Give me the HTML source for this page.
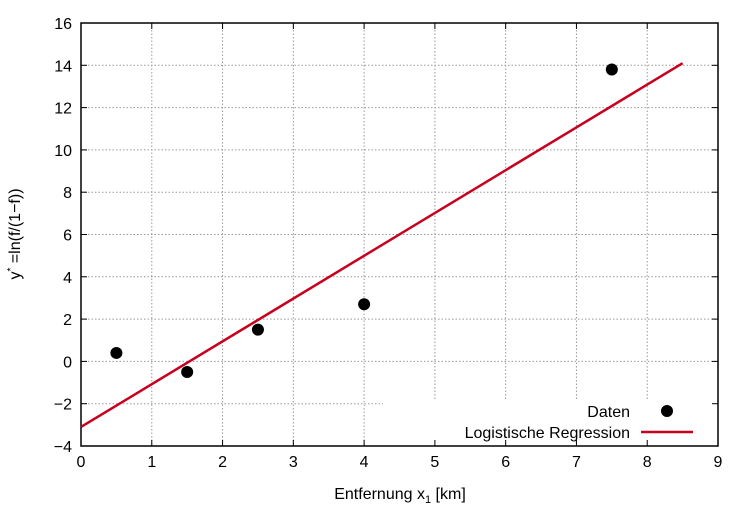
<!DOCTYPE html>
<html><head><meta charset="utf-8"><style>
body{margin:0;background:#fff}
svg{display:block;font-family:"Liberation Sans",sans-serif}
</style></head><body>
<svg id="chart" width="750" height="525" viewBox="0 0 750 525">
<g id="grid"></g>
<rect x="383" y="400" width="334" height="45" fill="#fff"/>
<g id="axes"></g>
<g id="marks"></g>
<text x="20" y="234" font-size="16" text-anchor="middle" transform="rotate(-90 20 234)">y<tspan dy="-6" font-size="10">*</tspan><tspan dy="6"> =ln(f/(1−f))</tspan></text>
<text x="400" y="499" font-size="16" text-anchor="middle">Entfernung x<tspan dy="4" font-size="11">1</tspan><tspan dy="-4"> [km]</tspan></text>
<g>
<text x="630" y="417" font-size="16" text-anchor="end">Daten</text>
<circle cx="667" cy="411" r="6" fill="#000"/>
<text x="630" y="438" font-size="16" text-anchor="end">Logistische Regression</text>
<line x1="641" y1="432" x2="693" y2="432" stroke="#c8001e" stroke-width="2.5"/>
</g>
</svg>
<script>
const xTicks=[0,1,2,3,4,5,6,7,8,9];
const yTicks=[-4,-2,0,2,4,6,8,10,12,14,16];
const dataX=[0.5,1.5,2.5,4,7.5];
const dataY=[0.4,-0.5,1.5,2.7,13.8];
const lineX=[0,8.5];
const lineY=[-3.1,14.1];
const L=81,R=718,T=23,B=446;
const sx=v=>L+(v-0)/(9-0)*(R-L);
const sy=v=>B-(v+4)/20*(B-T);
const NS="http://www.w3.org/2000/svg";
function mk(parent,tag,attrs){const e=document.createElementNS(NS,tag);for(const k in attrs)e.setAttribute(k,attrs[k]);document.getElementById(parent).appendChild(e);return e;}
xTicks.forEach(v=>{
  const x=sx(v);
  if(v>0&&v<9){
    const yEnd=(x>383)?400:B;
    const g=mk('grid','line',{x1:x,y1:T,x2:x,y2:yEnd,stroke:'#999','stroke-dasharray':'1.5,2','stroke-width':1});
    
    
  }
  const t=mk('axes','line',{x1:x,y1:B,x2:x,y2:B-6,stroke:'#000','stroke-width':1});
  
  
  const t2=mk('axes','line',{x1:x,y1:T,x2:x,y2:T+6,stroke:'#000','stroke-width':1});
  
  
  const l=mk('axes','text',{x:x,y:B+21,'font-size':16,'text-anchor':'middle'});
  l.textContent=v;
  
  
});
yTicks.forEach(v=>{
  const y=sy(v);
  if(v>-4&&v<16){
    const xEnd=(y>=398)?383:R;
    const g=mk('grid','line',{x1:L,y1:y,x2:xEnd,y2:y,stroke:'#999','stroke-dasharray':'1.5,2','stroke-width':1});
    
    
  }
  const t=mk('axes','line',{x1:L,y1:y,x2:L+6,y2:y,stroke:'#000','stroke-width':1});
  
  
  const t2=mk('axes','line',{x1:R,y1:y,x2:R-6,y2:y,stroke:'#000','stroke-width':1});
  
  
  const l=mk('axes','text',{x:L-9,y:y+6,'font-size':16,'text-anchor':'end'});
  l.textContent=v<0?'−'+(-v):v;
  
  
});
const frame=mk('axes','rect',{x:L,y:T,width:R-L,height:B-T,fill:'none',stroke:'#000','stroke-width':1.5});


const rl=mk('marks','line',{x1:sx(lineX[0]),y1:sy(lineY[0]),x2:sx(lineX[1]),y2:sy(lineY[1]),stroke:'#c8001e','stroke-width':2.5});


dataX.forEach((x,i)=>{
  const c=mk('marks','circle',{cx:sx(x),cy:sy(dataY[i]),r:6,fill:'#000'});
  
  
});
</script>
</body></html>
